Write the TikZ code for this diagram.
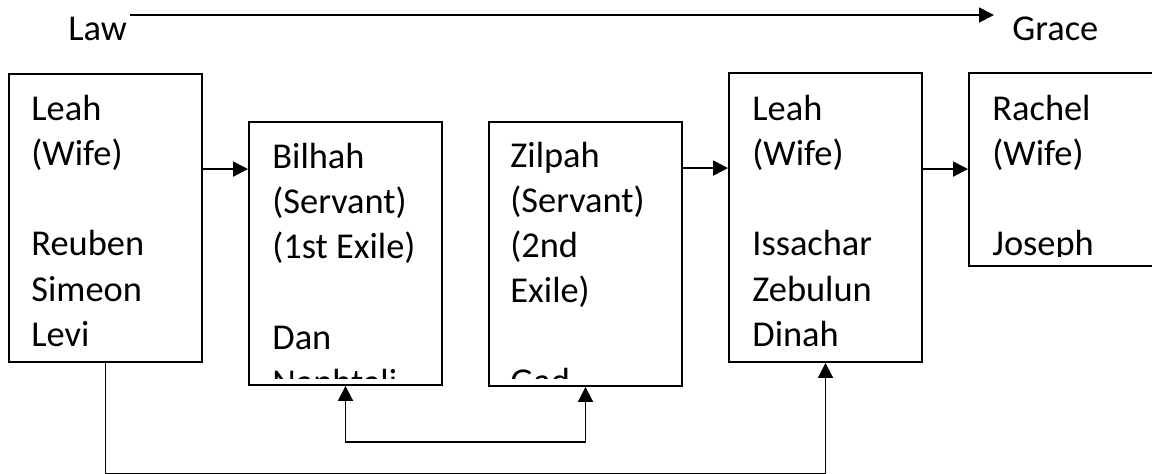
\documentclass[tikz,border=0pt]{standalone}
\usepackage{fontspec}
\setmainfont{Carlito}
\usetikzlibrary{arrows.meta, calc}

\tikzset{
  box/.style={draw, line width=0.95pt, minimum width=96.5pt, inner sep=0pt},
  row/.style={anchor=base west, inner sep=0pt, font=\fontsize{18.2}{22}\selectfont},
  arr/.style={line width=0.95pt, -{Triangle[length=7.5pt, width=7.5pt]}}
}

\begin{document}
\begin{tikzpicture}[x=0.5pt, y=-0.5pt]
    \useasboundingbox (0,0) rectangle (1152,473);
    % title line
    \node[row] (law) at (68,40) {Law};
    \node[row] (grace) at (1012,40) {Grace};
    \coordinate (lawend) at (130,15);
    \coordinate (graceend) at (994,15);
    \draw[arr] (lawend) -- (graceend);

    % the five boxes
    \node (leahA) [box, minimum height=144pt] at (105.5,218) {};
    \node (bilhah) [box, minimum height=131.5pt] at (345.5,253.5) {};
    \node (zilpah) [box, minimum height=132pt] at (585.5,254) {};
    \node (leahB) [box, minimum height=144.5pt] at (825.5,217.5) {};
    \node (rachel) [box, minimum height=96.5pt] at (1065.5,169.5) {};

    % texts
    \foreach \t [count=\i from 0] in {Leah,{(Wife)},,Reuben,Simeon,Levi}
      \node[row] (leahA-\i) at (31,{120+45.3*\i}) {\t};
    \begin{scope}
      \clip (bilhah.north west) rectangle ($(bilhah.south east)+(0,-7)$);
      \foreach \t [count=\i from 0] in {Bilhah,{(Servant)},{(1st Exile)},,Dan,Naphtali}
        \node[row] (bilhah-\i) at (272,{168+45.3*\i}) {\t};
    \end{scope}
    \begin{scope}
      \clip (zilpah.north west) rectangle ($(zilpah.south east)+(0,-8)$);
      \foreach \t [count=\i from 0] in {Zilpah,{(Servant)},{(2nd},{Exile)},,Gad}
        \node[row] (zilpah-\i) at (510,{167+45.3*\i}) {\t};
    \end{scope}
    \foreach \t [count=\i from 0] in {Leah,{(Wife)},,Issachar,Zebulun,Dinah}
      \node[row] (leahB-\i) at (752,{120+45.3*\i}) {\t};
    \begin{scope}
      \clip (rachel.north west) rectangle ($(rachel.south east)+(0,-10)$);
      \foreach \t [count=\i from 0] in {Rachel,{(Wife)},,Joseph}
        \node[row] (rachel-\i) at (992,{120+45.3*\i}) {\t};
    \end{scope}

    % connectors
    \coordinate (a1) at ($(leahA.north east)+(0,96)$);
    \draw[arr] (a1) -- (a1 -| bilhah.west);
    \coordinate (a2) at ($(zilpah.north east)+(0,47)$);
    \draw[arr] (a2) -- (a2 -| leahB.west);
    \coordinate (a3) at ($(leahB.north east)+(0,97)$);
    \draw[arr] (a3) -- (a3 -| rachel.west);
    \draw[arr, {Triangle[length=7.5pt, width=7.5pt]}-{Triangle[length=7.5pt, width=7.5pt]}]
      (bilhah.south) -- ++(0,56) -| (zilpah.south);
    \draw[arr] (leahA.south) -- ++(0,111) -| (leahB.south);
  \end{tikzpicture}
\end{document}
